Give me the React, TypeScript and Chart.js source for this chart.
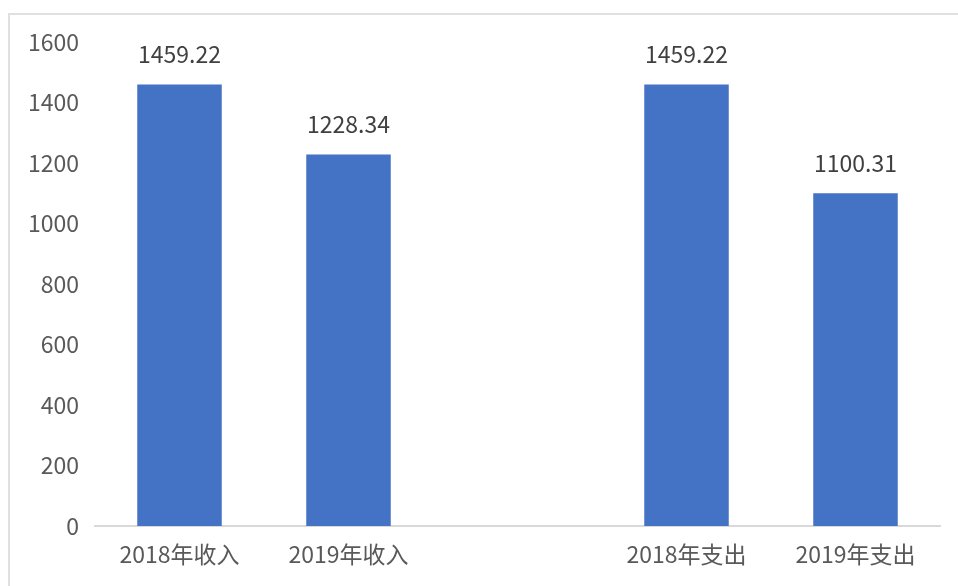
import React, { useEffect, useRef } from "react";
import { Chart, registerables } from "chart.js";

Chart.register(...registerables);

const categories = ["2018年收入", "2019年收入", "", "2018年支出", "2019年支出"];
const values: (number | null)[] = [1459.22, 1228.34, null, 1459.22, 1100.31];
const valueLabels = ["1459.22", "1228.34", "", "1459.22", "1100.31"];
const yTicks = [0, 200, 400, 600, 800, 1000, 1200, 1400, 1600];

const FONT = "'Noto Sans CJK SC', 'Noto Sans', sans-serif";

const labelPlugin = {
  id: "valueLabels",
  afterDatasetsDraw(chart: any) {
    const ctx = chart.ctx;
    const meta = chart.getDatasetMeta(0);
    ctx.save();
    ctx.font = `23px ${FONT}`;
    ctx.fillStyle = "#404040";
    ctx.textAlign = "center";
    ctx.textBaseline = "middle";
    meta.data.forEach((bar: any, i: number) => {
      if (values[i] == null) return;
      ctx.fillText(valueLabels[i], bar.x, bar.y - 30);
    });
    ctx.restore();
  },
};

export default function App() {
  const ref = useRef<HTMLCanvasElement>(null);
  useEffect(() => {
    const chart = new Chart(ref.current!, {
      type: "bar",
      data: {
        labels: categories,
        datasets: [
          {
            data: values as any,
            backgroundColor: "#4472C4",
            categoryPercentage: 1,
            barPercentage: 0.5,
          },
        ],
      },
      options: {
        animation: false,
        responsive: false,
        maintainAspectRatio: false,
        layout: { padding: { top: 42, right: 18, bottom: 0, left: 0 } },
        plugins: { legend: { display: false }, tooltip: { enabled: false } },
        scales: {
          x: {
            grid: { display: false, drawTicks: false },
            border: { display: true, color: "#d9d9d9", width: 2 },
            ticks: {
              color: "#595959",
              font: { family: FONT, size: 23 },
              padding: 14,
              maxRotation: 0,
              autoSkip: false,
            },
            afterFit(scale: any) {
              scale.height = 60;
            },
          },
          y: {
            min: 0,
            max: 1600,
            grid: { display: false, drawTicks: false },
            border: { display: false },
            afterBuildTicks(scale: any) {
              scale.ticks = yTicks.map((v) => ({ value: v }));
            },
            ticks: {
              color: "#595959",
              font: { family: FONT, size: 23 },
              padding: 16,
              callback: (v: any) => String(v),
            },
            afterFit(scale: any) {
              scale.width = 95;
            },
          },
        },
      },
      plugins: [labelPlugin],
    });
    return () => chart.destroy();
  }, []);
  return (
    <div style={{ position: "fixed", left: 0, top: 0, width: 958, height: 586, background: "#fff", overflow: "hidden" }}>
      <div
        style={{
          position: "absolute",
          left: 8,
          top: 13,
          width: 1000,
          height: 700,
          border: "2px solid #e0e0e0",
          boxSizing: "border-box",
        }}
      />
      <canvas ref={ref} width={958} height={586} style={{ position: "absolute", left: 0, top: 0 }} />
    </div>
  );
}
